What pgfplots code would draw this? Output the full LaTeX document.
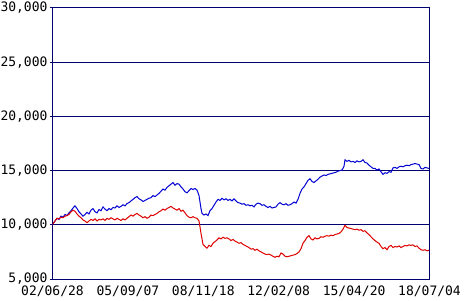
\documentclass[border=0pt]{standalone}
\usepackage{fontspec}
\setmonofont{DejaVu Sans Mono}
\usepackage{pgfplots}
\pgfplotsset{compat=1.18}
\definecolor{navyax}{RGB}{0,0,110}
\definecolor{bl}{RGB}{0,0,210}
\definecolor{rd}{RGB}{222,0,0}
\begin{document}
\begin{tikzpicture}
\useasboundingbox (0,0) rectangle (470pt,300pt);
\begin{axis}[at={(52.5pt,21pt)}, anchor=south west, scale only axis,
  width=377pt, height=271pt,
  xmin=52.5, xmax=429.5, ymin=5000, ymax=30000,
  axis line style={navyax, line width=1pt},
  xtick={52.5,127.9,203.3,278.7,354.1,429.5},
  xticklabels={02/06/28,05/09/07,08/11/18,12/02/08,15/04/20,18/07/04},
  ytick={5000,10000,15000,20000,25000,30000},
  yticklabels={{5,000},{10,000},{15,000},{20,000},{25,000},{30,000}},
  ymajorgrids, grid style={navyax, line width=1pt},
  ytick pos=left, tick align=outside, major tick length=2.5pt,
  ytick style={navyax, line width=1pt},
  xtick style={draw=none},
  ticklabel style={font=\fontsize{13}{13}\selectfont\ttfamily},
  yticklabel style={xshift=1pt},
  xticklabel style={yshift=-1pt},
]
\addplot[bl, line width=1pt] coordinates {
(52,9950)(53,10100)(55,10350)(57,10600)(59,10500)(61,10800)(63,10700)(65,10950)(67,10850)(69,11100)
(71,11300)(73,11550)(75,11750)(77,11500)(79,11200)(81,11000)(83,10800)(85,10950)(87,11150)(89,11000)
(91,11350)(93,11500)(95,11200)(97,11100)(99,11400)(101,11300)(103,11650)(105,11450)(107,11300)(109,11500)
(111,11400)(113,11600)(115,11550)(117,11750)(119,11600)(121,11700)(123,11850)(125,11750)(127,11950)(129,12050)
(131,12200)(133,12350)(135,12500)(137,12600)(139,12400)(141,12300)(143,12150)(145,12250)(147,12350)(149,12450)
(151,12500)(153,12700)(155,12600)(157,12750)(159,12900)(161,13100)(163,13300)(165,13200)(167,13450)(169,13600)
(171,13750)(173,13900)(175,13650)(177,13800)(179,13750)(181,13500)(183,13300)(185,13050)(187,12950)(189,13150)
(191,13350)(193,13250)(195,13350)(197,13200)(199,12700)(200,12100)(201,11500)(202,11050)(204,10900)(206,11000)
(208,10850)(210,11300)(212,11500)(214,11800)(216,12100)(218,12350)(220,12250)(222,12450)(224,12300)(226,12400)
(228,12250)(230,12350)(232,12200)(234,12400)(236,12200)(238,12050)(240,12000)(242,11900)(244,11950)(246,11800)
(248,11850)(250,11750)(252,11800)(254,11650)(256,11900)(258,12000)(260,11950)(262,11800)(264,11850)(266,11700)
(268,11600)(270,11700)(272,11550)(274,11600)(276,11650)(278,11900)(280,12050)(282,11900)(284,11850)(286,11950)
(288,11800)(290,11850)(292,11950)(294,12100)(296,12000)(298,12350)(300,12900)(302,13300)(304,13500)(306,13800)
(308,14100)(310,14250)(312,14000)(314,13900)(316,14050)(318,14200)(320,14400)(322,14500)(324,14600)(326,14550)
(328,14650)(330,14700)(332,14750)(334,14800)(336,14850)(338,14950)(340,15000)(342,15050)(344,15400)(345,16000)
(347,15850)(349,15950)(351,15800)(353,15850)(355,15750)(357,15900)(359,15800)(361,15850)(363,16000)(365,15750)
(367,15700)(369,15500)(371,15350)(373,15200)(375,15200)(377,15050)(379,15150)(381,14900)(383,14650)(385,14800)
(387,14750)(389,14900)(391,14850)(393,15250)(395,15300)(397,15200)(399,15350)(401,15400)(403,15350)(405,15450)
(407,15500)(409,15450)(411,15550)(413,15600)(415,15650)(417,15600)(419,15550)(421,15200)(423,15150)(425,15300)
(427,15250)(429,15200)
};
\addplot[rd, line width=1pt] coordinates {
(52,9950)(53,10100)(55,10350)(57,10600)(59,10550)(61,10700)(63,10650)(65,10800)(67,10850)(69,10950)
(71,11200)(73,11350)(75,11250)(77,11000)(79,10800)(81,10650)(83,10450)(85,10350)(87,10200)(89,10350)
(91,10500)(93,10400)(95,10550)(97,10350)(99,10500)(101,10450)(103,10550)(105,10400)(107,10600)(109,10500)
(111,10650)(113,10550)(115,10450)(117,10600)(119,10500)(121,10400)(123,10550)(125,10450)(127,10600)(129,10750)
(131,10900)(133,10800)(135,10950)(137,11050)(139,10900)(141,10800)(143,10650)(145,10750)(147,10600)(149,10700)
(151,10900)(153,10850)(155,10950)(157,11050)(159,11200)(161,11300)(163,11450)(165,11350)(167,11500)(169,11600)
(171,11700)(173,11550)(175,11450)(177,11350)(179,11500)(181,11250)(183,11350)(185,11100)(187,10850)(189,10700)
(191,10650)(193,10750)(195,10650)(197,10600)(199,10350)(200,9800)(201,9200)(202,8700)(203,8200)(205,8000)
(207,7850)(209,8100)(211,8000)(213,8300)(215,8450)(217,8600)(219,8800)(221,8700)(223,8850)(225,8750)
(227,8800)(229,8700)(231,8550)(233,8650)(235,8500)(237,8400)(239,8300)(241,8350)(243,8200)(245,8100)
(247,8000)(249,7900)(251,7750)(253,7800)(255,7650)(257,7750)(259,7600)(261,7500)(263,7400)(265,7300)
(267,7250)(269,7300)(271,7200)(273,7100)(275,7000)(277,7100)(279,7050)(281,7400)(283,7300)(285,7100)
(287,7050)(289,7100)(291,7150)(293,7200)(295,7250)(297,7350)(299,7500)(301,7800)(303,8300)(305,8550)
(307,8850)(309,9000)(311,8700)(313,8600)(315,8800)(317,8700)(319,8750)(321,8900)(323,8850)(325,8950)
(327,9000)(329,8950)(331,9050)(333,9000)(335,9100)(337,9150)(339,9200)(341,9350)(343,9600)(345,9950)
(347,9750)(349,9700)(351,9650)(353,9600)(355,9550)(357,9600)(359,9500)(361,9550)(363,9400)(365,9450)
(367,9250)(369,9100)(371,8900)(373,8700)(375,8550)(377,8400)(379,8300)(381,8000)(383,7800)(385,7900)
(387,7700)(389,8000)(391,8100)(393,7900)(395,8000)(397,7950)(399,8050)(401,7900)(403,8000)(405,8100)
(407,8050)(409,8150)(411,8100)(413,8150)(415,8000)(417,8050)(419,7850)(421,7700)(423,7650)(425,7700)
(427,7600)(429,7650)
};
\end{axis}
\end{tikzpicture}
\end{document}
